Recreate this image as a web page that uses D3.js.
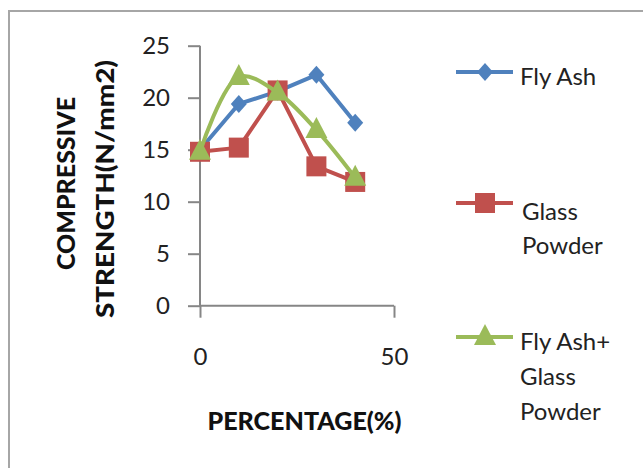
<!DOCTYPE html>
<html><head><meta charset="utf-8">
<script src="https://cdn.jsdelivr.net/npm/d3@7"></script>
<style>body{margin:0;background:#fff}svg{display:block}text{font-family:Lato,"Open Sans",sans-serif}</style>
</head><body>
<svg id="c" width="643" height="468"></svg>
<script>
const percentages = [0, 10, 20, 30, 40];
const flyAsh = [15, 19.4, 20.6, 22.2, 17.6];
const glassPowder = [14.8, 15.2, 20.7, 13.4, 11.9];
const flyAshGlass = [14.8, 22.0, 20.5, 16.9, 12.3];
const seriesNames = [["Fly Ash"], ["Glass", "Powder"], ["Fly Ash+", "Glass", "Powder"]];
const yTicks = [0, 5, 10, 15, 20, 25];
const xTicks = [0, 50];

const svg = d3.select("#c");
// outer frame
svg.append("rect").attr("x", 9).attr("y", 11).attr("width", 660).attr("height", 480)
  .attr("fill", "none").attr("stroke", "#a6a6a6").attr("stroke-width", 2);

const x = d3.scaleLinear().domain([0, 50]).range([200, 394]);
const y = d3.scaleLinear().domain([0, 25]).range([305.7, 45.7]);

const axisColor = "#868686";
const yAx = svg.append("g").attr("transform", "translate(200,0)")
  .call(d3.axisLeft(y).tickValues(yTicks).tickSize(12).tickPadding(18));
const xAx = svg.append("g").attr("transform", "translate(0,305.7)")
  .call(d3.axisBottom(x).tickValues(xTicks).tickSize(12).tickPadding(30));
[yAx, xAx].forEach(g => {
  g.select(".domain").attr("stroke", axisColor).attr("stroke-width", 2);
  g.selectAll(".tick line").attr("stroke", axisColor).attr("stroke-width", 2);
  g.selectAll(".tick text").attr("fill", "#222").style("font-size", "24px").style("font-family", "Lato, sans-serif");
});
yAx.select(".domain").attr("d", `M0,${y(25)}V${y(0)}`);
xAx.select(".domain").attr("d", `M${x(0)},0H${x(50)}`);

const colors = ["#4F81BD", "#C0504D", "#9BBB59"];
const data = [flyAsh, glassPowder, flyAshGlass];
const curves = [d3.curveLinear, d3.curveLinear, d3.curveCatmullRom.alpha(0.5)];

data.forEach((vals, i) => {
  const pts = percentages.map((p, j) => [x(p), y(vals[j])]);
  svg.append("path").attr("d", d3.line().curve(curves[i])(pts))
    .attr("fill", "none").attr("stroke", colors[i]).attr("stroke-width", 4)
    .attr("stroke-linejoin", "round");
  pts.forEach(p => drawMarker(svg, i, p[0], p[1]));
});

function drawMarker(g, i, cx, cy) {
  if (i === 0) {
    g.append("path").attr("d", `M${cx},${cy - 9}L${cx + 8},${cy}L${cx},${cy + 9}L${cx - 8},${cy}Z`)
      .attr("fill", colors[0]);
  } else if (i === 1) {
    g.append("rect").attr("x", cx - 10).attr("y", cy - 10).attr("width", 20).attr("height", 20)
      .attr("fill", colors[1]);
  } else {
    g.append("path").attr("d", `M${cx},${cy - 13}L${cx + 11},${cy + 8}L${cx - 11},${cy + 8}Z`)
      .attr("fill", colors[2]);
  }
}

// axis titles
const yt = svg.append("text").attr("transform", "rotate(-90)")
  .attr("font-weight", "900").style("font-size", "24px").attr("fill", "#111").attr("text-anchor", "middle");
yt.append("tspan").attr("x", -183.5).attr("y", 75).attr("textLength", 173)
  .attr("lengthAdjust", "spacingAndGlyphs").text("COMPRESSIVE");
yt.append("tspan").attr("x", -189).attr("y", 114).attr("textLength", 258)
  .attr("lengthAdjust", "spacingAndGlyphs").text("STRENGTH(N/mm2)");

svg.append("text").attr("x", 304.5).attr("y", 430).attr("text-anchor", "middle")
  .attr("font-weight", "900").style("font-size", "24px").attr("fill", "#111")
  .attr("textLength", 194).attr("lengthAdjust", "spacingAndGlyphs").text("PERCENTAGE(%)");

// legend
const legY = [72, 203, 337];
const legTextY = [[85], [220, 254], [350, 385, 420]];
seriesNames.forEach((lines, i) => {
  svg.append("line").attr("x1", 456).attr("x2", 513).attr("y1", legY[i]).attr("y2", legY[i])
    .attr("stroke", colors[i]).attr("stroke-width", 4);
  drawMarker(svg, i, 485, legY[i]);
  lines.forEach((t, k) => {
    svg.append("text").attr("x", i === 1 ? 522 : 520).attr("y", legTextY[i][k])
      .style("font-size", "24px").attr("fill", "#222").text(t);
  });
});
</script>
</body></html>
